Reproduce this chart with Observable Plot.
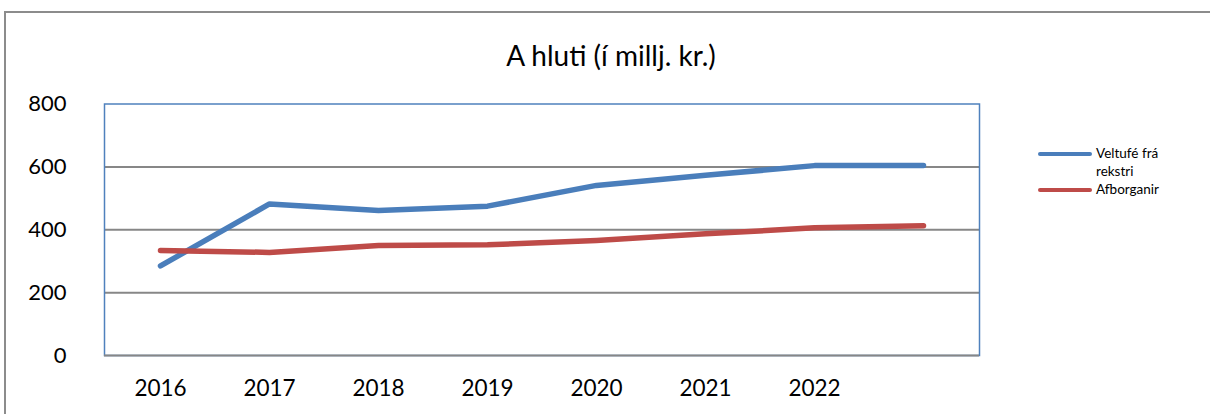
<!DOCTYPE html>
<html>
<head>
<meta charset="utf-8">
<script src="https://cdn.jsdelivr.net/npm/d3@7"></script>
<script src="https://cdn.jsdelivr.net/npm/@observablehq/plot@0.6"></script>
<style>
  html, body { margin: 0; padding: 0; background: #fff; width: 1210px; height: 414px; overflow: hidden; }
  body { position: relative; font-family: Lato, "Open Sans", sans-serif; color: #000; }
  #border { position: absolute; left: 4px; top: 11px; width: 1400px; height: 600px;
            border-top: 2px solid #8c8c8c; border-left: 2px solid #8c8c8c; }
  #title { position: relative; height: 90px; }
  #title span { position: absolute; left: 6px; width: 1210px; top: 38px; line-height: 34px;
                text-align: center; font-size: 28px; }
  #chart { position: relative; }
  #legend { position: absolute; left: 1038px; top: 144px; font-size: 13.5px; line-height: 18px; }
  .item { display: flex; align-items: flex-start; }
  .swatch { width: 54px; height: 4px; border-radius: 2px; margin-top: 8px; margin-right: 4px; flex: none; }
  .label { width: 78px; }
</style>
</head>
<body>
<div id="border"></div>
<div id="title"><span>A hluti (í millj. kr.)</span></div>
<div id="chart"></div>
<div id="legend"></div>
<script>
const years = [2016, 2017, 2018, 2019, 2020, 2021, 2022, 2023];
const tickLabels = ["2016", "2017", "2018", "2019", "2020", "2021", "2022", ""];
const veltufe = [285, 482, 461, 475, 541, 573, 604, 604];
const afborganir = [334, 328, 350, 352, 366, 387, 406, 413];
const seriesNames = ["Veltufé frá rekstri", "Afborganir"];
const seriesColors = ["#4A7EBB", "#BE4B48"];
const yTicks = [0, 200, 400, 600, 800];

const data = [];
years.forEach((yr, i) => {
  data.push({year: yr, value: veltufe[i], series: seriesNames[0]});
});
years.forEach((yr, i) => {
  data.push({year: yr, value: afborganir[i], series: seriesNames[1]});
});

const chart = Plot.plot({
  width: 1210,
  height: 324,
  marginLeft: 104,
  marginRight: 231,
  marginTop: 13.5,
  marginBottom: 59,
  style: {fontFamily: "Lato, 'Open Sans', sans-serif", fontSize: "22px", color: "#000", background: "transparent", overflow: "visible"},
  x: {type: "point", domain: years, padding: 0.5},
  y: {domain: [0, 800]},
  color: {domain: seriesNames, range: seriesColors},
  marks: [
    Plot.gridY(yTicks.filter(t => t > 0 && t < 800), {stroke: "#878787", strokeOpacity: 1, strokeWidth: 2}),
    Plot.frame({stroke: "#4F81BD", strokeWidth: 1.5}),
    Plot.ruleY([0], {stroke: "#878787", strokeWidth: 2}),
    Plot.axisY(yTicks, {tickSize: 0, tickPadding: 38, fontSize: 22, label: null}),
    Plot.axisX({tickSize: 0, tickPadding: 25, fontSize: 22.5, label: null,
                tickFormat: d => tickLabels[years.indexOf(d)]}),
    Plot.line(data, {x: "year", y: "value", z: "series", stroke: "series", strokeWidth: 5.5,
                     curve: "linear", strokeLinecap: "round", strokeLinejoin: "round"})
  ]
});
document.getElementById("chart").appendChild(chart);

const legend = document.getElementById("legend");
seriesNames.forEach((name, i) => {
  const item = document.createElement("div");
  item.className = "item";
  const sw = document.createElement("div");
  sw.className = "swatch";
  sw.style.background = seriesColors[i];
  const lb = document.createElement("div");
  lb.className = "label";
  lb.textContent = name;
  item.appendChild(sw);
  item.appendChild(lb);
  legend.appendChild(item);
});
</script>
</body>
</html>
